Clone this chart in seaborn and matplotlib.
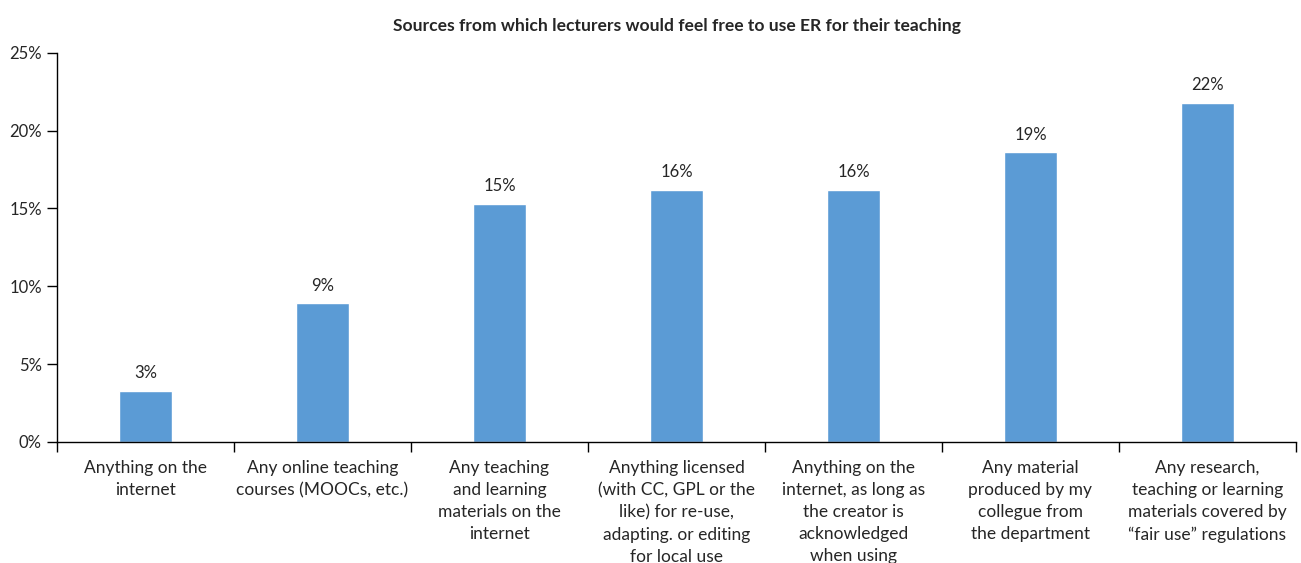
import matplotlib
matplotlib.use("Agg")
import matplotlib.pyplot as plt
import seaborn as sns
import pandas as pd
import numpy as np
from matplotlib.ticker import FixedLocator, PercentFormatter

categories = [
    "Anything on the\ninternet",
    "Any online teaching\ncourses (MOOCs, etc.)",
    "Any teaching\nand learning\nmaterials on the\ninternet",
    "Anything licensed\n(with CC, GPL or the\nlike) for re-use,\nadapting. or editing\nfor local use",
    "Anything on the\ninternet, as long as\nthe creator is\nacknowledged\nwhen using",
    "Any material\nproduced by my\ncollegue from\nthe department",
    "Any research,\nteaching or learning\nmaterials covered by\n\u201cfair use\u201d regulations",
]
shares = [3.3, 8.9, 15.3, 16.2, 16.2, 18.6, 21.8]
title = "Sources from which lecturers would feel free to use ER for their teaching"

sns.set_style("white")
plt.rcParams["font.family"] = ["Lato", "DejaVu Sans"]
text_color = "#262626"
bar_color = "#5B9BD5"

df = pd.DataFrame({"category": categories, "share": shares})

fig = plt.figure(figsize=(13.01, 5.63), dpi=100)
ax = fig.add_axes([57 / 1301, (563 - 442) / 563, (1296 - 57) / 1301, (442 - 52.7) / 563])

sns.barplot(data=df, x="category", y="share", color=bar_color, width=0.3,
            saturation=1, ax=ax)

ax.set_xlim(-0.5, len(categories) - 0.5)
ax.set_ylim(0, 25)
ax.set_yticks(np.arange(0, 26, 5))
ax.yaxis.set_major_formatter(PercentFormatter(decimals=0))
ax.tick_params(axis="y", left=True, length=7, width=1, color="black",
               labelsize=12, labelcolor=text_color, pad=4)

# Category boundaries carry the tick marks; labels sit at bar centres
ax.xaxis.set_major_locator(FixedLocator(np.arange(-0.5, len(categories), 1.0)))
ax.xaxis.set_minor_locator(FixedLocator(np.arange(len(categories))))
ax.set_xticklabels([""] * (len(categories) + 1))
ax.set_xticklabels(categories, minor=True)
ax.tick_params(axis="x", which="major", bottom=True, length=7, width=1, color="black")
ax.tick_params(axis="x", which="minor", bottom=False, length=0, pad=13,
               labelsize=12.5, labelcolor=text_color)
for lbl in ax.get_xticklabels(minor=True):
    lbl.set_horizontalalignment("center")
    lbl.set_linespacing(1.47)

ax.set_xlabel("")
ax.set_ylabel("")
for side in ["top", "right"]:
    ax.spines[side].set_visible(False)
for side in ["left", "bottom"]:
    ax.spines[side].set_color("black")
    ax.spines[side].set_linewidth(1)

for i, v in enumerate(shares):
    ax.annotate(f"{v:.0f}%", (i, v), xytext=(0, 7), textcoords="offset points",
                ha="center", va="bottom", fontsize=12, color=text_color)

fig.text((57 + 1296) / 2 / 1301, 1 - 26 / 563, title, ha="center", va="center",
         fontsize=12.6, fontweight="bold", color=text_color)

fig.savefig("out.png", dpi=100)
